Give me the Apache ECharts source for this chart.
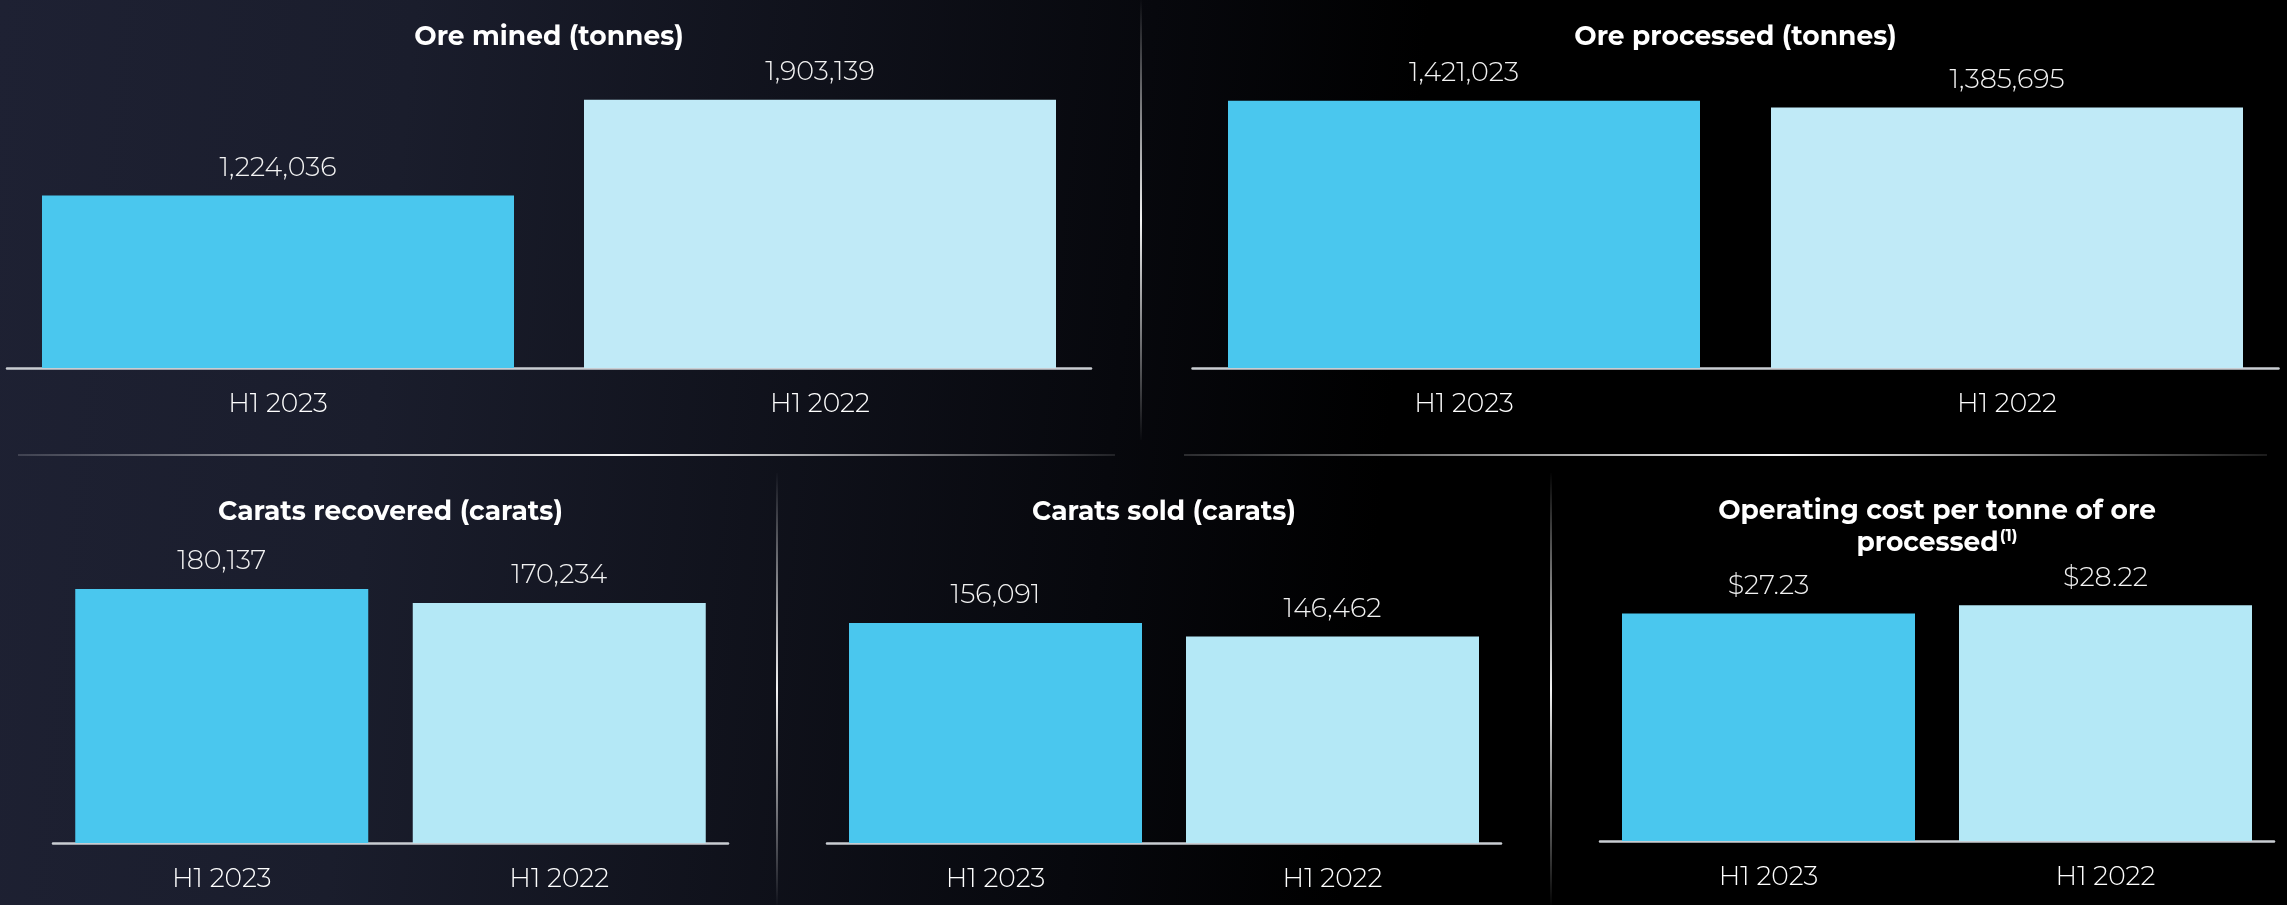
<!DOCTYPE html>
<html>
<head>
<meta charset="utf-8">
<script src="https://cdn.jsdelivr.net/npm/echarts@6/dist/echarts.min.js"></script>
<style>
  html, body { margin: 0; padding: 0; background: #000; }
  #chart { width: 2287px; height: 905px; }
</style>
</head>
<body>
<div id="chart"></div>
<script>
// ---- data ----
const categories = ['H1 2023', 'H1 2022'];
const oreMined = [1224036, 1903139];
const oreProcessed = [1421023, 1385695];
const caratsRecovered = [180137, 170234];
const caratsSold = [156091, 146462];
const operatingCost = [27.23, 28.22];
const chartTitles = [
  'Ore mined (tonnes)',
  'Ore processed (tonnes)',
  'Carats recovered (carats)',
  'Carats sold (carats)',
  'Operating cost per tonne of ore'
];
const titleSecondLine = 'processed';
const titleFootnote = '(1)';

// ---- style / layout ----
const FONT = 'Montserrat, Inter, "Open Sans", Lato, sans-serif';
const BLUE = '#4AC7EE';
const LIGHT_TOP = '#C0EAF7';
const LIGHT_BOTTOM = '#B4E8F6';
const TITLE_SIZE = 26.5;
const VALUE_SIZE = 27;
const CAT_SIZE = 26.5;

const panels = [
  { values: oreMined,        grid: { left: 7,    top: 86,  width: 1084, height: 282 }, max: 2000000, barWidth: 472, colors: [BLUE, LIGHT_TOP],    fmt: v => v.toLocaleString('en-US'), titleY: 37 },
  { values: oreProcessed,    grid: { left: 1192.5, top: 86, width: 1086, height: 282 }, max: 1500000, barWidth: 472, colors: [BLUE, LIGHT_TOP],   fmt: v => v.toLocaleString('en-US'), titleY: 37 },
  { values: caratsRecovered, grid: { left: 53,   top: 561, width: 675,  height: 282 }, max: 200000,  barWidth: 293, colors: [BLUE, LIGHT_BOTTOM], fmt: v => v.toLocaleString('en-US'), titleY: 512 },
  { values: caratsSold,      grid: { left: 827,  top: 561, width: 674,  height: 282 }, max: 200000,  barWidth: 293, colors: [BLUE, LIGHT_BOTTOM], fmt: v => v.toLocaleString('en-US'), titleY: 512 },
  { values: operatingCost,   grid: { left: 1600, top: 557, width: 674,  height: 284 }, max: 34,      barWidth: 293, colors: [BLUE, LIGHT_BOTTOM], fmt: v => '$' + v.toFixed(2), titleY: 511 }
];

const grids = [], xAxes = [], yAxes = [], series = [], graphics = [];

panels.forEach((p, i) => {
  grids.push(Object.assign({ containLabel: false }, p.grid));
  xAxes.push({
    type: 'category', gridIndex: i, data: categories,
    axisTick: { show: false },
    axisLine: { show: true, lineStyle: { color: '#C9CDD2', width: 2.5 } },
    axisLabel: { color: '#FFFFFF', fontSize: CAT_SIZE, fontWeight: 300, fontFamily: FONT, margin: 23 }
  });
  yAxes.push({ type: 'value', gridIndex: i, min: 0, max: p.max, show: false, splitLine: { show: false } });
  series.push({
    type: 'bar', xAxisIndex: i, yAxisIndex: i, barWidth: p.barWidth,
    data: p.values.map((v, k) => ({ value: v, itemStyle: { color: p.colors[k] } })),
    label: {
      show: true, position: 'top', distance: 14,
      color: '#F2F2F2', fontSize: VALUE_SIZE, fontWeight: 300, fontFamily: FONT,
      formatter: prm => p.fmt(prm.value)
    },
    emphasis: { disabled: true },
    animation: false
  });
  const cx = p.grid.left + p.grid.width / 2;
  graphics.push({
    type: 'text', x: cx, y: p.titleY,
    style: { text: chartTitles[i], fill: '#FFFFFF', font: 'bold ' + TITLE_SIZE + 'px ' + FONT, textAlign: 'center', textVerticalAlign: 'middle' }
  });
  if (i === 4) {
    graphics.push({
      type: 'text', x: cx, y: 543,
      style: {
        text: '{a|' + titleSecondLine + '}{s|' + titleFootnote + '}',
        textAlign: 'center', textVerticalAlign: 'middle',
        rich: {
          a: { fill: '#FFFFFF', font: 'bold ' + TITLE_SIZE + 'px ' + FONT, lineHeight: 30 },
          s: { fill: '#FFFFFF', font: 'bold 16px ' + FONT, verticalAlign: 'top', lineHeight: 30, padding: [0, 0, 10, 1] }
        }
      }
    });
  }
});

// separators
function hLine(x1, x2, y) {
  return { type: 'line', shape: { x1: x1, y1: y, x2: x2, y2: y },
    style: { lineWidth: 2, stroke: new echarts.graphic.LinearGradient(0, 0, 1, 0, [
      { offset: 0, color: 'rgba(255,255,255,0.15)' },
      { offset: 0.55, color: 'rgba(255,255,255,0.95)' },
      { offset: 1, color: 'rgba(255,255,255,0.1)' }
    ]) } };
}
function vLine(x, y1, y2) {
  return { type: 'line', shape: { x1: x, y1: y1, x2: x, y2: y2 },
    style: { lineWidth: 2, stroke: new echarts.graphic.LinearGradient(0, 0, 0, 1, [
      { offset: 0, color: 'rgba(255,255,255,0)' },
      { offset: 0.5, color: 'rgba(255,255,255,0.95)' },
      { offset: 1, color: 'rgba(255,255,255,0)' }
    ]) } };
}
graphics.push(hLine(18, 1115, 455));
graphics.push(hLine(1184, 2267, 455));
graphics.push(vLine(1141, 0, 440));
graphics.push(vLine(777, 473, 905));
graphics.push(vLine(1551, 473, 905));

const chart = echarts.init(document.getElementById('chart'), null, { renderer: 'canvas' });
chart.setOption({
  animation: false,
  backgroundColor: new echarts.graphic.LinearGradient(0, 0, 1, 0.25, [
    { offset: 0, color: '#1E2133' },
    { offset: 0.18, color: '#1A1D2C' },
    { offset: 0.5, color: '#07080D' },
    { offset: 0.62, color: '#000000' },
    { offset: 1, color: '#000000' }
  ]),
  grid: grids,
  xAxis: xAxes,
  yAxis: yAxes,
  series: series,
  graphic: graphics
});
</script>
</body>
</html>
